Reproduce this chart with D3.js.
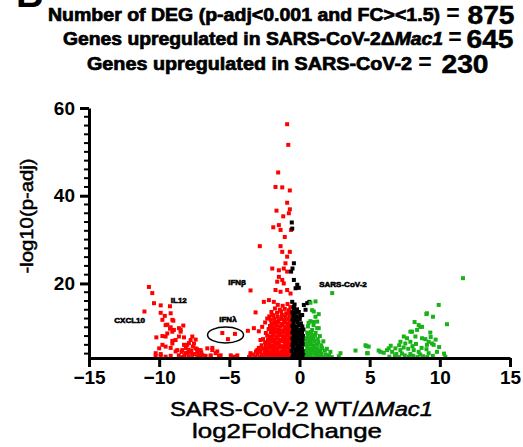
<!DOCTYPE html>
<html>
<head>
<meta charset="utf-8">
<script src="https://cdn.jsdelivr.net/npm/d3@7"></script>
<style>
  body { margin: 0; background: #fff; }
  svg text { font-family: "Liberation Sans", Arial, sans-serif; }
</style>
</head>
<body>
<script>
// Size of the picture
var w = 523;
var h = 447;

// Header lines and counts
var titleLines = ["Number of DEG (p-adj<0.001 and FC><1.5)", "Genes upregulated in SARS-CoV-2\u0394", "Genes upregulated in SARS-CoV-2"];
var titleItalic = ["", "Mac1", ""];
var titleCounts = ["875", "645", "230"];

// Axis ticks
var xTicks = [-15, -10, -5, 0, 5, 10, 15];
var yTicks = [20, 40, 60];
var yMinor = [4, 6, 8, 10, 12, 14, 16, 18, 22, 24, 26, 28, 30, 32, 34, 36, 38, 42, 44, 46, 48, 50, 52, 54, 56, 58];

// Genes up in SARS-CoV-2 dMac1 (red): [log2FoldChange, -log10(p-adj)]
var redGenes = [
  [-10.73,19.2],[-10.49,17.8],[-10.37,15.5],[-9.89,15.0],[-9.23,14.8],[-11.05,13.6],[-9.89,13.3],[-9.6,12.6],[-9.18,13.2],
  [-8.99,11.5],[-9.06,11.7],[-9.77,11.7],[-9.42,10.6],[-9.54,10.5],[-8.28,10.4],[-9.18,10.0],[-9.23,9.7],[-8.59,9.8],[-8.47,9.4],
  [-8.95,9.4],[-8.47,9.0],[-9.06,9.0],[-9.42,8.6],[-9.77,8.0],[-10.2,7.7],[-9.54,7.9],[-8.59,7.9],[-8.23,7.7],[-8.83,7.1],
  [-9.06,6.9],[-7.64,7.9],[-7.76,7.1],[-7.4,7.2],[-9.06,6.3],[-7.52,6.3],[-7.88,6.4],[-8.23,6.0],[-8.0,6.0],[-9.77,6.0],
  [-9.54,5.6],[-9.18,5.3],[-10.0,5.2],[-7.4,5.2],[-6.57,5.2],[-8.71,4.8],[-8.35,4.8],[-7.05,4.8],[-6.21,4.8],[-8.83,4.5],
  [-7.76,4.4],[-7.28,4.4],[-10.25,4.1],[-8.11,4.1],[-5.98,4.1],[-9.89,3.9],[-7.64,3.7],[-6.93,3.7],[-9.89,3.5],[-9.18,3.5],
  [-6.69,3.5],[-5.74,3.5],[-10.25,3.4],[-9.54,3.3],[-8.35,3.2],[-7.28,3.3],[-6.33,3.3],[-8.1,5.3],[-7.9,4.9],[-7.6,5.6],
  [-7.3,5.0],[-7.5,3.9],[-7.9,3.4],[-8.2,3.6],[-7.7,4.6],[-8.0,4.2],[-7.2,3.8],[-7.0,4.3],[-8.4,4.4],[-8.6,3.6],[-7.05,3.6],
  [-6.33,3.6],[-5.62,3.6],[-5.86,4.5],[-6.21,5.3],
  [-5.5,8.7],[-5.1,7.3],[-4.6,8.5],[-3.68,9.2],[-3.49,18.4],[-3.13,13.4],[-4.9,3.6],[-4.43,3.6],[-4.67,3.3],[-3.49,3.6],
  [-2.54,15.8],[-3.25,9.8],[-2.78,7.1],[-3.01,4.8],[-3.49,4.1],[-2.66,10.1],[-2.3,12.0],[-1.94,12.8],[-2.9,9.1],[-2.9,4.9],
  [-0.88,56.3],[-0.8,51.6],[-1.52,45.3],[-1.71,42.0],[-1.23,41.9],[-0.69,41.2],[-0.88,38.4],[-1.64,36.6],[-0.69,36.9],
  [-1.16,35.3],[-0.76,36.0],[-1.87,32.8],[-1.47,33.3],[-1.35,32.2],[-1.05,30.6],[-0.6,32.2],[-2.83,28.5],[-1.35,28.5],
  [-1.23,27.2],[-0.69,27.2],[-0.88,26.1],[-1.0,24.6],[-1.94,23.4],[-1.47,23.0],[-1.12,23.4],[-0.88,22.7],[-1.47,21.5],
  [-1.23,20.8],[-1.59,20.4],[-1.12,20.0],[-1.71,18.5],[-1.35,18.1],[-0.88,18.5],[-0.64,17.7],[-2.18,16.2],[-1.83,15.8],
  [-1.55,15.1],[-1.2,14.9],[-0.85,15.3],[-0.65,14.6],
  [-1.75,14.3],[-1.4,14.0],[-1.05,14.2],[-0.75,13.9],
  [-2.0,13.5],[-1.6,13.3],[-1.3,13.6],[-0.95,13.2],[-0.68,13.4],
  [-2.15,12.5],[-1.85,12.7],[-1.55,12.4],[-1.25,12.8],[-1.0,12.5],[-0.72,12.6],
  [-2.05,11.7],[-1.8,11.9],[-1.5,11.6],[-1.3,11.9],[-1.05,11.7],[-0.8,11.8],[-0.62,11.5],
  [-2.45,11.1],[-2.0,10.9],[-1.75,11.0],[-1.55,11.2],[-1.3,10.8],[-1.1,11.1],[-0.85,10.9],[-0.65,11.0],
  [-2.1,10.3],[-1.9,10.1],[-1.65,10.4],[-1.4,10.2],[-1.2,10.4],[-0.95,10.1],[-0.72,10.3],
  [-2.2,9.6],[-1.95,9.4],[-1.75,9.6],[-1.5,9.5],[-1.3,9.3],[-1.05,9.6],[-0.85,9.4],[-0.62,9.6],
  [-2.4,8.7],[-2.05,8.9],[-1.85,8.7],[-1.6,8.8],[-1.4,8.6],[-1.15,8.9],[-0.92,8.7],[-0.7,8.8],
  [-2.3,8.1],[-2.1,7.9],[-1.9,8.1],[-1.65,7.9],[-1.45,8.2],[-1.2,8.0],[-1.0,7.8],[-0.78,8.1],[-0.6,7.9],
  [-2.6,7.3],[-2.25,7.2],[-2.0,7.4],[-1.8,7.2],[-1.55,7.4],[-1.35,7.1],[-1.1,7.3],[-0.9,7.2],[-0.68,7.4],
  [-2.45,6.6],[-2.2,6.5],[-1.95,6.7],[-1.75,6.5],[-1.5,6.6],[-1.3,6.8],[-1.05,6.5],[-0.85,6.7],[-0.62,6.5],
  [-2.7,5.9],[-2.4,5.8],[-2.15,6.0],[-1.9,5.8],[-1.7,6.0],[-1.45,5.9],[-1.25,5.7],[-1.0,5.9],[-0.8,6.0],[-0.6,5.8],
  [-2.9,5.3],[-2.6,5.1],[-2.35,5.2],[-2.1,5.3],[-1.85,5.1],[-1.6,5.2],[-1.4,5.4],[-1.15,5.1],[-0.95,5.3],[-0.7,5.2],
  [-3.1,4.5],[-2.8,4.4],[-2.5,4.6],[-2.25,4.5],[-2.0,4.4],[-1.75,4.6],[-1.55,4.4],[-1.3,4.5],[-1.1,4.7],[-0.88,4.4],[-0.65,4.5],
  [-3.3,3.8],[-3.0,3.9],[-2.7,3.7],[-2.45,3.9],[-2.2,3.8],[-1.95,3.7],[-1.7,3.9],[-1.5,3.8],[-1.25,3.7],[-1.05,3.9],[-0.8,3.8],[-0.6,3.7],
  [-3.6,3.2],[-3.15,3.3],[-2.85,3.2],[-2.55,3.1],[-2.3,3.3],[-2.05,3.2],[-1.8,3.1],[-1.6,3.3],[-1.35,3.2],[-1.15,3.1],[-0.9,3.3],[-0.7,3.2]
];

// Not significant by fold change (black)
var blackGenes = [
  [-0.55,33.9],[-0.52,32.5],[-0.4,24.6],[-0.6,22.7],[-0.5,23.4],[-0.4,20.8],[-0.28,18.9],[-0.16,19.7],[-0.05,19.0],
  [-0.52,15.8],[-0.4,14.7],[0.31,15.1],[0.43,14.0],[0.19,12.8],[0.55,15.5],[0.7,15.8],
  [-0.5,3.2],[-0.3,3.3],[-0.1,3.1],[0.1,3.3],[0.3,3.2],
  [-0.45,3.9],[-0.2,3.8],[0.0,4.0],[0.2,3.8],[0.38,3.9],
  [-0.55,4.6],[-0.3,4.5],[-0.1,4.7],[0.12,4.5],[0.32,4.6],
  [-0.45,5.3],[-0.25,5.2],[-0.05,5.4],[0.18,5.2],
  [-0.5,6.0],[-0.3,6.1],[-0.1,5.9],[0.1,6.0],[0.3,6.1],
  [-0.45,6.7],[-0.22,6.6],[0.0,6.8],[0.22,6.6],
  [-0.5,7.4],[-0.3,7.3],[-0.08,7.5],[0.15,7.3],[0.35,7.4],
  [-0.42,8.1],[-0.2,8.0],[0.05,8.2],[0.25,8.0],
  [-0.5,8.8],[-0.28,8.9],[-0.05,8.7],[0.18,8.9],
  [-0.45,9.5],[-0.2,9.6],[0.05,9.4],[0.28,9.5],
  [-0.5,10.3],[-0.25,10.2],[0.0,10.4],[0.2,10.2],
  [-0.42,11.0],[-0.15,11.1],[0.1,10.9],
  [-0.5,11.8],[-0.25,11.7],[0.02,11.9],
  [-0.45,12.6],[-0.2,12.5],[0.05,12.7],
  [-0.5,13.4],[-0.3,13.3],[-0.05,13.5],
  [-0.42,14.2],[-0.18,14.1],[-0.35,15.2]
];

// Genes up in SARS-CoV-2 WT (green)
var greenGenes = [
  [0.78,15.6],[0.9,13.9],[1.14,12.4],[1.14,15.9],[2.33,17.8],[1.02,13.6],[1.37,13.0],[1.26,9.8],[0.78,11.4],[0.9,9.4],
  [1.26,11.3],[1.37,9.8],
  [0.5,3.2],[0.72,3.3],[0.95,3.1],[1.2,3.3],[1.45,3.2],[1.7,3.1],[2.0,3.3],[2.3,3.2],[2.8,3.4],
  [0.55,3.9],[0.8,3.8],[1.05,4.0],[1.3,3.8],[1.55,3.9],[1.85,3.8],[2.1,3.6],
  [0.5,4.6],[0.75,4.5],[1.0,4.7],[1.25,4.5],[1.5,4.6],[1.8,4.7],[2.2,4.4],
  [0.55,5.3],[0.8,5.2],[1.05,5.4],[1.3,5.2],[1.6,5.3],[1.95,5.1],
  [0.5,6.0],[0.75,6.1],[1.0,5.9],[1.25,6.1],[1.55,5.9],
  [0.55,6.7],[0.8,6.6],[1.05,6.8],[1.35,6.6],[1.7,6.8],
  [0.5,7.4],[0.75,7.3],[1.0,7.5],[1.3,7.3],
  [0.6,8.1],[0.85,8.0],[1.1,8.2],[1.45,8.0],
  [0.55,8.8],[0.82,8.9],[1.15,8.7],
  [0.6,10.2],[1.0,10.5],[0.65,11.0],[1.0,11.2],
  [2.92,4.1],[3.99,4.7],[4.7,5.9],[4.82,4.1],[4.93,5.6],[5.77,4.4],[6.24,4.8],
  [11.65,21.2],[9.92,15.1],[9.04,13.0],[9.51,12.4],[10.51,10.7],[8.49,10.5],[8.73,10.1],[8.38,9.4],[8.02,9.0],[9.32,8.8],
  [7.43,7.9],[7.66,7.5],[8.26,7.9],[8.73,7.5],[8.97,7.3],[9.2,6.7],[7.19,6.7],[7.54,6.3],[7.9,6.7],[9.44,6.3],[9.08,6.0],
  [9.56,6.0],[4.77,5.7],[4.86,4.1],[5.64,4.7],[6.0,4.2],[6.36,5.2],[6.6,4.4],[6.83,5.2],[7.19,4.8],[7.42,5.4],[8.14,4.8],
  [8.49,4.4],[9.8,4.4],[9.2,4.1],[10.39,3.3],
  [6.4,3.3],[6.8,3.5],[7.1,3.2],[7.5,3.6],[7.8,3.3],[8.1,3.5],[8.4,3.2],[8.8,3.4],[9.1,3.2],[9.5,3.5],[7.3,4.0],[7.9,3.9],
  [8.6,3.8],[6.9,3.9],[9.35,7.8],[9.7,7.2],[9.95,5.5],[10.3,4.0],[8.2,11.2],[7.1,5.9],[6.5,5.8],[8.3,6.2],[8.05,5.7],
  [8.7,5.3],[9.05,5.0],[7.75,5.1],[8.61,10.1],[7.9,9.0],[9.08,13.2]
];

// Gene labels: name, log2FC, -log10(p-adj) of text baseline
var geneLabels = ["CXCL10", "IL12", "IFN\u03b2", "IFN\u03bb", "SARS-CoV-2"];
var labelX = [-12.1, -8.6, -4.45, -5.1, 3.1];
var labelY = [11.0, 15.5, 19.6, 11.2, 19.2];

// Scales
var x = d3.scaleLinear().domain([-15, 15]).range([89, 510]);
var y = d3.scaleLinear().domain([3, 60]).range([358, 108]);

var svg = d3.select("body").append("svg").attr("width", w).attr("height", h);

svg.append("rect").attr("width", w).attr("height", h).attr("fill", "white");

// Panel letter, cut off at the top
svg.append("text")
  .attr("x", 16).attr("y", 7)
  .style("font-size", "38px").style("font-weight", "bold")
  .text("B");

// Header
var tx = [48, 63, 87];
var tw = [392, 380, 325];
var eqx = [453, 455, 425];
var nx = [491, 490, 465];
var ty = [21, 45, 70];

titleLines.forEach(function (t, i) {
  var line = svg.append("text")
    .attr("x", tx[i]).attr("y", ty[i])
    .attr("textLength", tw[i]).attr("lengthAdjust", "spacingAndGlyphs")
    .style("font-size", "18px").style("font-weight", "bold")
    .style("stroke", "black").style("stroke-width", 0.7);
  line.append("tspan").text(t);
  if (titleItalic[i]) line.append("tspan").style("font-style", "italic").text(titleItalic[i]);

  svg.append("text")
    .attr("x", eqx[i]).attr("y", ty[i])
    .attr("text-anchor", "middle")
    .style("font-size", "23px").style("font-weight", "bold")
    .text("=");

  svg.append("text")
    .attr("x", nx[i]).attr("y", ty[i] + 3)
    .attr("text-anchor", "middle")
    .attr("textLength", 47).attr("lengthAdjust", "spacingAndGlyphs")
    .style("font-size", "25px").style("font-weight", "bold")
    .style("stroke", "black").style("stroke-width", 0.5)
    .text(titleCounts[i]);
});

// Points
function drawPts(data, color) {
  svg.append("g")
    .selectAll("rect")
    .data(data)
    .enter()
    .append("rect")
    .attr("x", function (d) { return x(d[0]) - 2; })
    .attr("y", function (d) { return y(d[1]) - 2; })
    .attr("width", 4)
    .attr("height", 4)
    .style("fill", color);
}
drawPts(redGenes, "#ff0000");
drawPts(blackGenes, "#000000");
drawPts(greenGenes, "#19b319");

// Gene labels
svg.append("g")
  .selectAll("text")
  .data(geneLabels)
  .enter()
  .append("text")
  .attr("x", function (d, i) { return x(labelX[i]); })
  .attr("y", function (d, i) { return y(labelY[i]); })
  .attr("text-anchor", "middle")
  .style("font-size", "8px")
  .style("font-weight", "bold")
  .style("stroke", "black").style("stroke-width", 0.6)
  .text(function (d) { return d; });

// Ring around the IFN lambda genes
svg.append("ellipse")
  .attr("cx", x(-5.27)).attr("cy", y(8.24))
  .attr("rx", 18).attr("ry", 8)
  .style("fill", "none").style("stroke", "black").style("stroke-width", 1.5);

// Axes
var xAxis = svg.append("g")
  .attr("transform", "translate(0," + y(3) + ")")
  .call(d3.axisBottom(x).tickValues(xTicks).tickSize(9).tickPadding(4).tickSizeOuter(0));

var yAxis = svg.append("g")
  .attr("transform", "translate(" + x(-15) + ",0)")
  .call(d3.axisLeft(y).tickValues(yTicks).tickSize(9).tickPadding(5).tickSizeOuter(0));

svg.append("g")
  .attr("transform", "translate(" + x(-15) + ",0)")
  .selectAll("line")
  .data(yMinor)
  .enter()
  .append("line")
  .attr("x1", -5).attr("x2", 0)
  .attr("y1", function (d) { return y(d); })
  .attr("y2", function (d) { return y(d); })
  .style("stroke", "black").style("stroke-width", 2);

[xAxis, yAxis].forEach(function (a) {
  a.select(".domain").style("stroke-width", 3);
  a.selectAll(".tick line").style("stroke-width", 3);
  a.selectAll(".tick text")
    .style("font-size", "19px").style("font-weight", "bold")
    .style("font-family", "'Liberation Sans', Arial, sans-serif")
    .style("fill", "black");
});

// Axis titles
var xt = svg.append("text")
  .attr("x", 170).attr("y", 416)
  .attr("textLength", 263).attr("lengthAdjust", "spacingAndGlyphs")
  .style("font-size", "21px")
  .style("stroke", "black").style("stroke-width", 0.5);
xt.append("tspan").text("SARS-CoV-2 WT/");
xt.append("tspan").style("font-style", "italic").text("\u0394Mac1");

svg.append("text")
  .attr("x", 192).attr("y", 438)
  .attr("textLength", 190).attr("lengthAdjust", "spacingAndGlyphs")
  .style("font-size", "21px")
  .style("stroke", "black").style("stroke-width", 0.5)
  .text("log2FoldChange");

svg.append("text")
  .attr("transform", "translate(33,216) rotate(-90)")
  .attr("text-anchor", "middle")
  .attr("textLength", 115).attr("lengthAdjust", "spacingAndGlyphs")
  .style("font-size", "19px")
  .style("stroke", "black").style("stroke-width", 0.5)
  .text("-log10(p-adj)");
</script>
</body>
</html>
